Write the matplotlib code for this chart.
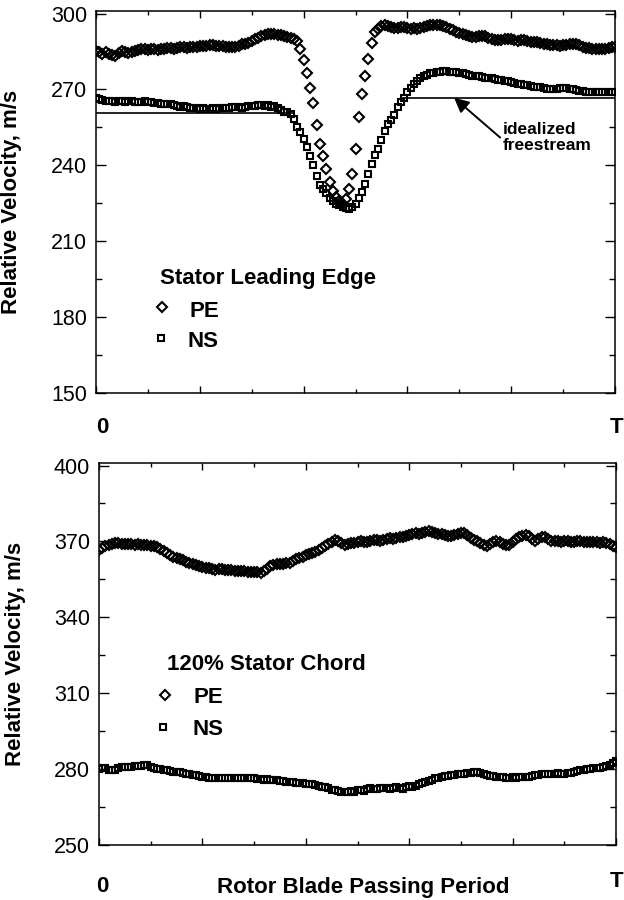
import numpy as np
import matplotlib.pyplot as plt

plt.rcParams['font.family'] = ['Liberation Sans', 'DejaVu Sans']

# rotor blade passing period, 161 samples from 0 to T
n = 161
t = np.linspace(0.0, 1.0, n)

# stator leading edge, relative velocity (m/s)
le_pe = [
    285.2, 284.8, 284.2, 284.6, 284.0, 283.6, 283.2, 284.4, 285.3, 284.9,
    284.4, 284.6, 285.2, 285.6, 286.0, 285.8, 285.6, 285.9, 285.8, 285.6,
    286.0, 286.1, 286.2, 286.4, 286.0, 286.5, 286.6, 286.8, 286.5, 286.7,
    286.9, 286.8, 287.2, 287.3, 287.0, 287.4, 287.5, 287.2, 287.1, 287.0,
    286.8, 286.9, 286.6, 286.8, 287.3, 287.9, 288.0, 288.5, 289.2, 289.8,
    290.4, 291.0, 291.5, 291.8, 292.0, 291.8, 291.7, 291.6, 291.2, 290.8,
    290.4, 289.9, 289.2, 286.1, 281.5, 276.5, 270.5, 264.5, 256.0, 248.6,
    243.5, 238.7, 233.5, 229.8, 227.5, 225.8, 224.8, 226.8, 230.5, 236.5,
    246.5, 259.0, 268.0, 275.5, 282.0, 288.5, 292.7, 294.0, 295.0, 295.3,
    295.0, 294.6, 294.2, 294.4, 294.7, 294.6, 294.3, 294.0, 294.2, 294.0,
    294.4, 294.8, 295.1, 295.3, 295.5, 295.6, 295.6, 295.2, 294.7, 294.0,
    293.4, 292.8, 292.3, 292.0, 291.4, 291.0, 290.7, 290.8, 291.2, 291.3,
    291.0, 290.5, 290.0, 289.5, 289.4, 289.6, 289.9, 290.0, 289.8, 289.5,
    289.3, 289.4, 289.4, 289.1, 288.9, 288.8, 288.8, 288.5, 288.1, 287.9,
    287.7, 287.5, 287.4, 287.3, 287.4, 287.7, 288.0, 287.8, 288.0, 287.4,
    286.7, 286.4, 286.2, 286.0, 286.1, 286.1, 286.0, 286.1, 286.3, 286.6,
    286.9,
]
le_ns = [
    266.8, 266.2, 265.8, 265.4, 265.6, 265.3, 265.2, 265.5, 265.4, 265.1,
    265.3, 265.4, 265.0, 264.9, 265.1, 265.3, 265.2, 264.9, 264.7, 264.5,
    264.2, 264.3, 264.4, 264.1, 263.8, 263.5, 263.2, 263.3, 263.0, 262.7,
    262.5, 262.6, 262.4, 262.5, 262.2, 262.3, 262.6, 262.4, 262.5, 262.8,
    262.6, 262.8, 263.0, 262.9, 263.1, 262.8, 263.0, 263.4, 263.6, 263.4,
    263.7, 263.8, 263.6, 263.7, 263.2, 263.4, 262.8, 261.8, 261.2, 260.9,
    260.2, 258.3, 255.3, 253.2, 250.4, 247.3, 243.6, 240.0, 235.6, 232.3,
    230.6, 229.2, 227.0, 225.8, 224.7, 224.2, 223.6, 223.1, 222.9, 223.4,
    224.6, 227.2, 229.6, 232.6, 236.4, 240.6, 244.1, 246.6, 250.2, 253.6,
    256.2, 258.1, 259.9, 263.0, 265.0, 266.7, 268.9, 270.6, 272.3, 273.4,
    274.6, 275.3, 275.8, 276.3, 276.6, 276.8, 277.0, 277.2, 277.1, 277.0,
    276.9, 276.8, 276.5, 276.3, 276.1, 275.7, 275.5, 275.3, 275.2, 274.9,
    274.7, 274.6, 274.4, 274.2, 273.9, 273.7, 273.5, 273.3, 273.0, 272.7,
    272.3, 272.1, 271.9, 271.6, 271.3, 271.1, 271.0, 270.8, 270.5, 270.3,
    270.2, 270.1, 270.3, 270.5, 270.6, 270.6, 270.3, 270.0, 269.7, 269.5,
    269.3, 269.1, 269.0, 268.9, 269.0, 268.9, 268.8, 268.9, 269.0, 268.9,
    268.8,
]

# idealized freestream, (t start, t end, velocity)
free_segments = [(0.0, 0.38, 260.6), (0.59, 1.0, 266.7)]

# 120% stator chord, relative velocity (m/s)
ch_pe = [
    366.8, 367.4, 368.0, 368.6, 369.0, 369.3, 369.2, 368.9, 369.1, 369.0,
    368.8, 368.7, 368.9, 368.6, 368.5, 368.4, 368.1, 368.3, 367.8, 367.2,
    366.4, 365.6, 364.8, 364.0, 363.4, 363.0, 362.6, 361.9, 361.4, 360.9,
    360.6, 360.2, 359.8, 359.5, 359.3, 359.0, 358.9, 359.2, 359.1, 358.8,
    358.6, 358.7, 358.5, 358.4, 358.3, 358.2, 358.0, 358.1, 358.0, 357.8,
    357.7, 358.2, 359.2, 360.4, 360.8, 361.0, 361.2, 361.1, 361.3, 361.6,
    362.2, 363.0, 363.5, 364.0, 364.5, 364.9, 365.4, 366.0, 366.6, 367.3,
    368.0, 369.0, 369.8, 370.6, 370.0, 369.2, 368.6, 368.9, 369.4, 369.2,
    369.6, 370.1, 369.8, 369.9, 370.2, 370.4, 370.6, 370.3, 370.6, 371.0,
    371.2, 370.9, 371.5, 371.7, 371.6, 372.0, 372.6, 373.0, 373.4, 372.9,
    373.3, 373.8, 374.1, 373.8, 373.4, 373.0, 372.8, 372.6, 372.3, 372.0,
    372.4, 373.0, 373.5, 373.2, 372.4, 371.3, 370.5, 370.0, 369.2, 368.5,
    368.1, 368.8, 369.6, 370.3, 369.8, 369.1, 368.5, 368.7, 369.9, 371.0,
    371.6, 372.1, 372.6, 372.2, 371.0, 370.2, 370.8, 371.8, 371.6, 370.8,
    370.3, 370.1, 370.0, 369.9, 370.0, 370.1, 369.9, 369.8, 370.0, 370.1,
    369.9, 369.7, 369.8, 369.6, 369.7, 369.5, 369.6, 369.3, 368.8, 368.2,
    367.6,
]
ch_ns = [
    280.2, 280.6, 280.4, 279.8, 279.6, 279.7, 280.3, 280.7, 280.9, 280.8,
    281.0, 281.2, 281.1, 281.4, 281.6, 281.5, 281.0, 280.6, 280.2, 279.9,
    279.6, 279.5, 279.3, 279.0, 278.9, 278.8, 278.6, 278.2, 277.9, 277.7,
    277.5, 277.2, 276.9, 276.7, 276.6, 276.5, 276.6, 276.5, 276.4, 276.6,
    276.5, 276.3, 276.4, 276.6, 276.5, 276.3, 276.4, 276.5, 276.3, 276.1,
    275.9, 275.8, 275.9, 275.7, 275.6, 275.5, 275.3, 275.2, 275.0, 275.1,
    274.9, 274.7, 274.6, 274.4, 274.3, 274.2, 274.0, 273.6, 273.3, 273.1,
    272.8, 272.4, 271.9, 271.6, 271.2, 270.9, 270.8, 271.1, 271.3, 271.1,
    271.6, 271.8, 271.5, 272.0, 272.4, 272.3, 272.0, 272.5, 272.7, 272.4,
    272.2, 272.6, 272.8, 272.4, 272.2, 272.9, 273.2, 273.0, 273.5, 274.0,
    274.5, 274.9, 275.3, 275.8, 276.3, 276.6, 276.9, 277.1, 277.3, 277.6,
    277.8, 277.9, 278.1, 278.0, 278.3, 278.6, 278.9, 278.8, 278.5, 278.0,
    277.6, 277.4, 277.2, 277.0, 276.8, 276.7, 276.6, 276.5, 276.7, 276.6,
    276.8, 276.9, 277.0, 276.9, 277.2, 277.5, 277.8, 277.9, 278.1, 278.0,
    277.9, 278.1, 278.3, 278.0, 278.2, 278.4, 278.6, 278.9, 279.2, 279.5,
    279.7, 279.9, 280.1, 280.3, 280.5, 280.6, 280.9, 281.3, 281.8, 282.6,
    283.2,
]

W, H = 624, 900
fig = plt.figure(figsize=(W / 100, H / 100), dpi=100)


def px_axes(left, top, right, bottom):
    return fig.add_axes([left / W, 1 - bottom / H, (right - left) / W, (bottom - top) / H])


ax1 = px_axes(96, 11, 615, 393)
ax2 = px_axes(99, 463, 616, 845)

pe_style = dict(ls='', marker='D', ms=4.6, mfc='none', mec='k', mew=1.5)
ns_style = dict(ls='', marker='s', ms=4.4, mfc='none', mec='k', mew=1.5)

ax1.plot(t, le_pe, **pe_style)
ax1.plot(t, le_ns, **ns_style)
for t0, t1, v in free_segments:
    ax1.plot([t0, t1], [v, v], color='k', lw=1.2)
ax1.annotate('idealized\nfreestream', xy=(0.69, 266.7), xytext=(0.784, 257.0),
             fontsize=12.5, fontweight='bold', ha='left', va='top', linespacing=1.05,
             arrowprops=dict(arrowstyle='-|>', color='k', lw=1.4,
                             mutation_scale=22, shrinkA=0, shrinkB=0,
                             relpos=(-0.03, 0.5)))

ax2.plot(t, ch_pe, **pe_style)
ax2.plot(t, ch_ns, **ns_style)

lab = dict(fontsize=16, fontweight='bold')
ax1.text(0.123, 193.0, 'Stator Leading Edge', va='baseline', **lab)
ax1.plot([0.127], [184.0], **pe_style)
ax1.text(0.181, 180.0, 'PE', va='baseline', **lab)
ax1.plot([0.125], [171.8], **ns_style)
ax1.text(0.177, 168.2, 'NS', va='baseline', **lab)

ax2.text(0.131, 319.3, '120% Stator Chord', va='baseline', **lab)
ax2.plot([0.128], [309.4], **pe_style)
ax2.text(0.182, 306.2, 'PE', va='baseline', **lab)
ax2.plot([0.124], [296.7], **ns_style)
ax2.text(0.180, 293.6, 'NS', va='baseline', **lab)

for ax, lo, hi in [(ax1, 150, 301), (ax2, 250, 401)]:
    ax.set_xlim(0, 1)
    ax.set_ylim(lo, hi)
    ax.set_yticks(np.arange(lo, hi, 30))
    ax.set_yticks(np.arange(lo, hi, 15), minor=True)
    ax.set_xticks(np.arange(0, 1.01, 0.2))
    ax.set_xticks(np.arange(0.1, 1.0, 0.2), minor=True)
    ax.tick_params(which='both', direction='in', top=True, right=True,
                   labelbottom=False, width=1.0)
    ax.tick_params(axis='y', which='major', length=7, labelsize=15.5, pad=6.5)
    ax.tick_params(axis='y', which='minor', length=4)
    ax.tick_params(axis='x', which='major', length=5)
    ax.tick_params(axis='x', which='minor', length=3)
    for sp in ax.spines.values():
        sp.set_linewidth(1.1)
    ax.set_ylabel('Relative Velocity, m/s', fontsize=16, fontweight='bold')
    ax.yaxis.set_label_coords(-0.142, 0.5)

bold = dict(fontsize=16, fontweight='bold', va='baseline')
fig.text(102 / W, 1 - 433 / H, '0', ha='center', **bold)
fig.text(623 / W, 1 - 433 / H, 'T', ha='right', **bold)
fig.text(102 / W, 1 - 892 / H, '0', ha='center', **bold)
fig.text(623 / W, 1 - 887 / H, 'T', ha='right', **bold)
fig.text(217 / W, 1 - 893 / H, 'Rotor Blade Passing Period', ha='left', **bold)

fig.savefig('out.png', dpi=100)
